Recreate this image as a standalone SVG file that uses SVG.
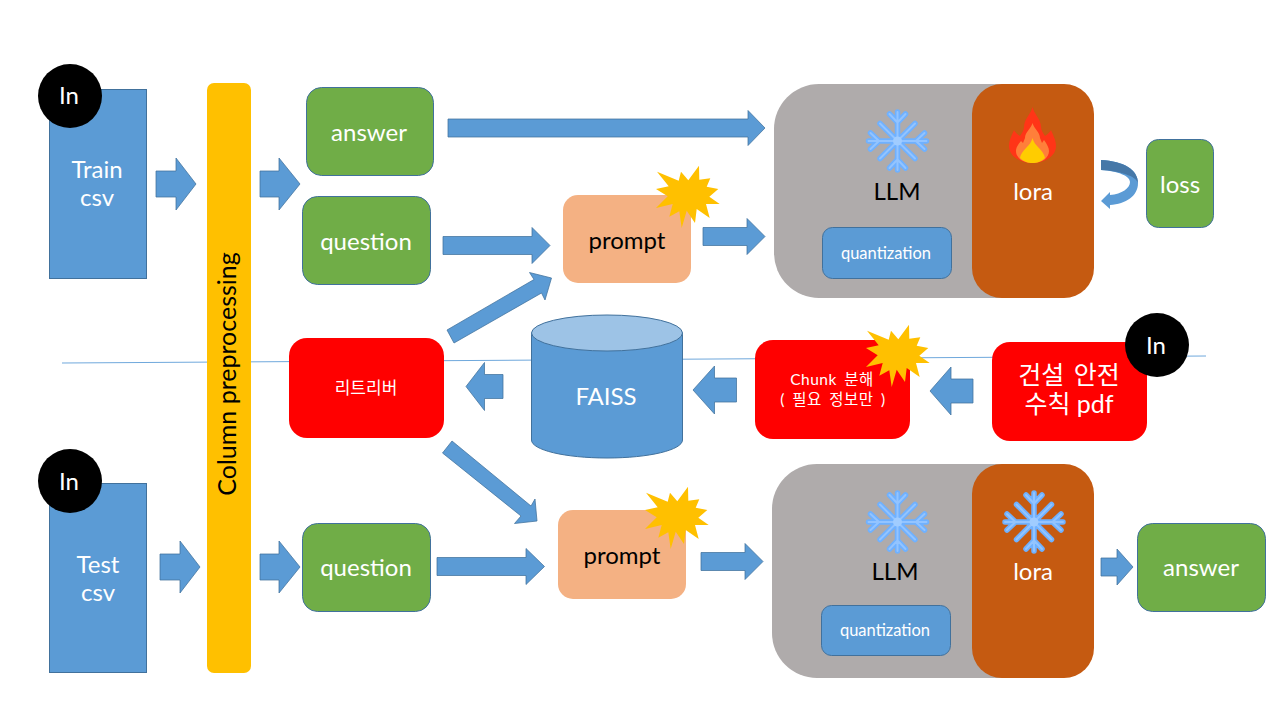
<svg xmlns="http://www.w3.org/2000/svg" xmlns:xlink="http://www.w3.org/1999/xlink" width="1280" height="720" viewBox="0 0 1280 720">
<style>
text{font-family:"Lato","Noto Sans CJK KR",sans-serif;text-anchor:middle;fill:#fff}
.b{fill:#5B9BD5;stroke:#41719C;stroke-width:1}
.g{fill:#70AD47;stroke:#41719C;stroke-width:1}
.p{fill:#F4B183}
.r{fill:#FF0000}
.k{fill:#000}
.a{fill:#5B9BD5;stroke:#41719C;stroke-width:.75}
.t22{font-size:24px}
.t15{font-size:16.500px}
.kr{font-size:17px}
.ch{font-size:15.500px;letter-spacing:.5px;word-spacing:3px}
.dk{fill:#000}
.s1{fill:none;stroke:#6FB1FF;stroke-width:5.500;stroke-linecap:round;stroke-linejoin:round}
.s2{fill:none;stroke:#93C4FF;stroke-width:2;stroke-linecap:round;stroke-linejoin:round}
</style>
<defs>
<polygon id="star" fill="#FFC000" points="17,11.700 38.700,20.700 41,11.700 48.300,20.300 59,5.700 59.300,19.700 70.300,18.300 66.700,26.700 78.300,29 69.300,36.700 79.700,44 66,44 69.700,58 56.700,49 55,63 46.700,50.700 41.700,68 39.300,51.300 29.300,56.700 32.700,44 16,48 27.700,36.300 16,29 28.700,26.300"/>
<path id="flakeShape" d="M0-29V29M-29 0H29M-17.500-17.500L17.500 17.500M-17.500 17.500L17.500-17.500M-8-27L0-18.500L8-27M-8 27L0 18.500L8 27M-27-8L-18.500 0L-27 8M27-8L18.500 0L27 8"/>
<g id="flake"><use xlink:href="#flakeShape" class="s1"/><use xlink:href="#flakeShape" class="s2"/><circle r="4.500" fill="#A0CCFF"/></g>
</defs>
<g id="divider"><line x1="62" y1="363" x2="1206" y2="356" stroke="#6FA8DC" stroke-width="1"/></g>

<g id="train"><rect class="b" x="49.500" y="89.500" width="97" height="189"/><text class="t22" x="97" y="178">Train</text><text class="t22" x="97" y="206">csv</text></g>
<g id="in1"><circle class="k" cx="70" cy="96" r="32"/><text class="t22" x="69" y="104">In</text></g>
<g id="test"><rect class="b" x="49.500" y="483.500" width="97" height="189"/><text class="t22" x="98" y="573">Test</text><text class="t22" x="98" y="601">csv</text></g>
<g id="in2"><circle class="k" cx="70" cy="481" r="32"/><text class="t22" x="69" y="490">In</text></g>
<g id="column"><rect x="207" y="83" width="44" height="590" rx="7" fill="#FFC000"/><text class="dk" style="font-size:25px" transform="translate(236,374) rotate(-90)">Column preprocessing</text></g>

<g id="answer1"><rect class="g" x="306.500" y="87.500" width="127" height="88" rx="15"/><text class="t22" x="369" y="141">answer</text></g>
<g id="question1"><rect class="g" x="302.500" y="196.500" width="128" height="88" rx="15"/><text class="t22" x="366" y="250">question</text></g>
<g id="prompt1"><rect class="p" x="563" y="195" width="128" height="88" rx="15"/><text class="t22 dk" x="627" y="249">prompt</text><use xlink:href="#star" x="640" y="160"/></g>

<g id="llm1"><rect x="774" y="84" width="320" height="214" rx="45" fill="#AFABAB"/><use xlink:href="#flake" x="897.500" y="141"/><text class="t22 dk" x="897" y="200">LLM</text></g>
<g id="quant1"><rect class="b" x="822.500" y="227.500" width="129" height="51" rx="10"/><text class="t15" x="886" y="259">quantization</text></g>
<g id="lora1"><rect x="972" y="84" width="122" height="214" rx="30" fill="#C55A11"/>
<path d="M1032.500 107C1034 114 1041 119 1041 127C1041 130 1043 133 1045 136C1048 134 1050 132 1051 130C1053 135 1056 140 1056 146C1056 156 1045 163 1032.500 163C1020 163 1009 156 1009 146C1009 140 1012 135 1014 130C1015 132 1017 134 1020 136C1022 133 1024 130 1024 127C1024 119 1031 114 1032.500 107Z" fill="#FF3517"/>
<path d="M1032.500 123C1034 129 1040 132 1040 138L1042 143L1044 140C1047 144 1049 148 1049 151C1049 158 1042 163 1032.500 163C1023 163 1016 158 1016 151C1016 148 1018 144 1021 141L1023 143L1025 138C1025 132 1031 129 1032.500 123Z" fill="#FF7F3A"/>
<path d="M1032.500 138C1034 146 1044 150 1045 158C1041 162 1037 163 1032.500 163C1028 163 1024 162 1020 158C1021 150 1031 146 1032.500 138Z" fill="#FFCC00"/>
<text class="t22" x="1033" y="200">lora</text></g>
<g id="loss"><rect class="g" x="1146.500" y="139.500" width="67" height="88" rx="12"/><text class="t22" x="1180" y="193">loss</text></g>

<g id="retriever"><rect class="r" x="289" y="338" width="155" height="100" rx="18"/><text class="kr" x="366" y="394">리트리버</text></g>
<g id="faiss"><path class="b" d="M531.500 333V440C531.500 450 565 458 607 458S682.500 450 682.500 440V333Z"/><ellipse cx="607" cy="333" rx="75.500" ry="18" fill="#9DC3E6" stroke="#41719C"/><text class="t22" x="606" y="405">FAISS</text></g>
<g id="chunk"><rect class="r" x="755" y="340" width="155" height="99" rx="18"/><text class="ch" x="832" y="385">Chunk 분해</text><text class="ch" x="833" y="405">( 필요 정보만 )</text><use xlink:href="#star" x="850" y="319"/></g>
<g id="pdf"><rect class="r" x="992" y="342" width="155" height="99" rx="18"/><text style="font-size:25px;word-spacing:3px" x="1069" y="384">건설 안전</text><text style="font-size:25px" x="1069" y="413">수칙 pdf</text></g>
<g id="in3"><circle class="k" cx="1157" cy="345" r="32"/><text class="t22" x="1156" y="354">In</text></g>

<g id="question2"><rect class="g" x="302.500" y="523.500" width="128" height="88" rx="15"/><text class="t22" x="366" y="576">question</text></g>
<g id="prompt2"><rect class="p" x="558" y="510" width="128" height="89" rx="15"/><text class="t22 dk" x="622" y="564">prompt</text><use xlink:href="#star" x="629" y="481"/></g>
<g id="llm2"><rect x="772" y="464" width="322" height="214" rx="45" fill="#AFABAB"/><use xlink:href="#flake" x="897.500" y="522"/><text class="t22 dk" x="895" y="580">LLM</text></g>
<g id="quant2"><rect class="b" x="821.500" y="605.500" width="129" height="50" rx="10"/><text class="t15" x="885" y="636">quantization</text></g>
<g id="lora2"><rect x="972" y="464" width="122" height="214" rx="30" fill="#C55A11"/><use xlink:href="#flake" x="1034" y="522"/><text class="t22" x="1033" y="580">lora</text></g>
<g id="answer2"><rect class="g" x="1137.500" y="523.500" width="128" height="88" rx="15"/><text class="t22" x="1201" y="576">answer</text></g>

<g id="connectors">
<polygon class="a" points="156,171 176,171 176,158 196,184 176,210 176,197 156,197"/>
<polygon class="a" points="260,171 279,171 279,158 300,184 279,210 279,197 260,197"/>
<polygon class="a" points="448,119 748,119 748,110.500 765,128 748,145.500 748,137 448,137"/>
<polygon class="a" points="443,236.500 532,236.500 532,227.500 550,245.500 532,263.500 532,254.500 443,254.500"/>
<polygon class="a" points="703,227.500 747,227.500 747,218.500 765,236.500 747,254.500 747,245.500 703,245.500"/>
<polygon class="a" points="447,330 534,279.500 529.500,272.500 551.500,278 545,300 541.500,293 454,343"/>
<polygon class="a" points="503,374.500 484.500,374.500 484.500,362.500 466,386.500 484.500,410.500 484.500,398.500 503,398.500"/>
<polygon class="a" points="736.500,378 714.500,378 714.500,366 693,390 714.500,414 714.500,402 736.500,402"/>
<polygon class="a" points="973,379 951,379 951,367 930,391 951,415 951,403 973,403"/>
<polygon class="a" points="442.500,453 452,441 531,506 535,499 537,521 514.500,523.500 521,516"/>
<polygon class="a" points="160,554 180,554 180,541 200,567 180,593 180,580 160,580"/>
<polygon class="a" points="260,554 279,554 279,541 300,567 279,593 279,580 260,580"/>
<polygon class="a" points="437,557.500 526,557.500 526,548.500 544.500,566.500 526,584.500 526,575.500 437,575.500"/>
<polygon class="a" points="701,552.500 745,552.500 745,543.500 763,561.500 745,579.500 745,570.500 701,570.500"/>
<polygon class="a" points="1101,558 1117,558 1117,549 1133,567 1117,585 1117,576 1101,576"/>
<path d="M1101 160C1124 161 1138 170 1138 183C1138 196 1126 204 1110 205V209L1101 201L1110 192V195C1122 194 1130 188 1130 182C1130 176 1118 171 1101 170Z" fill="#5B9BD5"/>
<path d="M1101 160C1124 161 1138 170 1138 183C1136 176 1120 171 1101 170Z" fill="#4678A8"/>
</g>
</svg>
